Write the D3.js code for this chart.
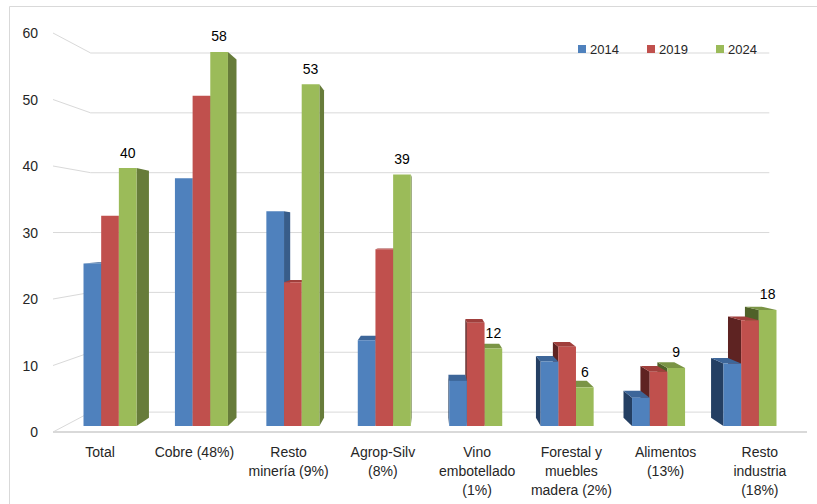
<!DOCTYPE html>
<html>
<head>
<meta charset="utf-8">
<script src="https://cdn.jsdelivr.net/npm/d3@7"></script>
<style>
  html, body { margin: 0; padding: 0; background: #fff; }
  svg { display: block; font-family: "Liberation Sans", Arial, sans-serif; }
</style>
</head>
<body>
<svg id="chart" width="817" height="504"></svg>
<script>
// ---- data ----
const categories = ["Total", "Cobre (48%)", "Resto minería (9%)", "Agrop-Silv (8%)",
  "Vino embotellado (1%)", "Forestal y muebles madera (2%)", "Alimentos (13%)", "Resto industria (18%)"];
const categoryLines = [
  ["Total"],
  ["Cobre (48%)"],
  ["Resto", "minería (9%)"],
  ["Agrop-Silv", "(8%)"],
  ["Vino", "embotellado", "(1%)"],
  ["Forestal y", "muebles", "madera (2%)"],
  ["Alimentos", "(13%)"],
  ["Resto", "industria", "(18%)"]
];
const series = ["2014", "2019", "2024"];
const values2014 = [25.2, 38.4, 33.3, 13.3, 7.0, 10.0, 4.4, 9.7];
const values2019 = [32.6, 51.2, 22.3, 27.4, 16.0, 12.3, 8.4, 16.4];
const values2024 = [40, 58, 53, 39, 12, 6, 9, 18];
const yTicks = [0, 10, 20, 30, 40, 50, 60];

const seriesValues = { "2014": values2014, "2019": values2019, "2024": values2024 };
const palette = {
  "2014": { front: "#4f81bd", sideR: "#385d8a", sideL: "#243f63", top: "#3d6699" },
  "2019": { front: "#c0504d", sideR: "#8c3a38", sideL: "#5e2322", top: "#a03f3c" },
  "2024": { front: "#9bbb59", sideR: "#677c3a", sideL: "#4f6128", top: "#7a9445" }
};

// ---- perspective set-up ----
const svg = d3.select("#chart");
const vanish = { x: 430, y: 233 };
const tWall = 0.1, tFront = 0.03, tBack = 0.071;

const y = d3.scaleLinear().domain([0, 60]).range([432, 33]);
const x = d3.scaleBand().domain(categories).range([53, 807]);
const clusterW = x.bandwidth() * 0.58;
const xs = d3.scaleBand().domain(series).range([0, clusterW]);

function proj(px, py, t) {
  return [px + (vanish.x - px) * t, py + (vanish.y - py) * t];
}
const poly = pts => "M" + pts.map(p => p[0].toFixed(2) + "," + p[1].toFixed(2)).join("L") + "Z";

// ---- frame ----
svg.append("path").attr("d", "M9.5,504V6.5H817")
  .attr("fill", "none").attr("stroke", "#d9d9d9").attr("stroke-width", 1);

// ---- walls & gridlines ----
const grid = svg.append("g").attr("stroke", "#d9d9d9").attr("stroke-width", 1).attr("fill", "none");
const xL = x.range()[0], xR = x.range()[1];
yTicks.forEach(v => {
  const a = [xL, y(v)];
  const b = proj(xL, y(v), tWall);
  const c = proj(xR, y(v), tWall);
  grid.append("path").attr("d", `M${a[0]},${a[1]}L${b[0]},${b[1]}L${c[0]},${c[1]}`);
});
// floor front edge
svg.append("line")
  .attr("x1", xL).attr("x2", xR).attr("y1", y(0)).attr("y2", y(0))
  .attr("stroke", "#d9d9d9").attr("stroke-width", 2);

// ---- value axis labels ----
svg.append("g").selectAll("text").data(yTicks).join("text")
  .attr("x", 38).attr("y", d => y(d) + 5)
  .attr("text-anchor", "end").attr("font-size", 14).attr("fill", "#262626")
  .text(d => d);

// ---- bars ----
const barsG = svg.append("g");
categories.forEach((cat, i) => {
  const bandStart = x(cat) + (x.bandwidth() - clusterW) / 2;
  const center = x(cat) + x.bandwidth() / 2;
  const order = center < vanish.x ? series.slice() : series.slice().reverse();
  order.forEach(s => {
    const v = seriesValues[s][i];
    const c = palette[s];
    const x0 = bandStart + xs(s), x1 = x0 + xs.bandwidth();
    const yt = y(v), yb = y(0);
    const g = barsG.append("g");
    // side face facing the viewer
    if (x1 < vanish.x) {
      g.append("path").attr("fill", c.sideR).attr("d", poly([
        proj(x1, yt, tFront), proj(x1, yt, tBack), proj(x1, yb, tBack), proj(x1, yb, tFront)]));
    } else if (x0 > vanish.x) {
      g.append("path").attr("fill", c.sideL).attr("d", poly([
        proj(x0, yt, tFront), proj(x0, yt, tBack), proj(x0, yb, tBack), proj(x0, yb, tFront)]));
    }
    // top face when below eye level
    if (yt > vanish.y) {
      g.append("path").attr("fill", c.top).attr("d", poly([
        proj(x0, yt, tFront), proj(x1, yt, tFront), proj(x1, yt, tBack), proj(x0, yt, tBack)]));
    }
    // front face
    g.append("path").attr("fill", c.front).attr("d", poly([
      proj(x0, yt, tFront), proj(x1, yt, tFront), proj(x1, yb, tFront), proj(x0, yb, tFront)]));
  });
});

// ---- value labels on the 2024 series ----
svg.append("g").selectAll("text").data(categories).join("text")
  .attr("x", (d, i) => {
    const x0 = x(d) + (x.bandwidth() - clusterW) / 2 + xs("2024");
    const a = proj(x0, 0, tFront), b = proj(x0 + xs.bandwidth(), 0, tFront);
    return (a[0] + b[0]) / 2;
  })
  .attr("y", (d, i) => proj(0, y(values2024[i]), tFront)[1] - 10.5)
  .attr("text-anchor", "middle").attr("font-size", 14).attr("fill", "#000")
  .text((d, i) => values2024[i]);

// ---- category labels ----
const catG = svg.append("g").attr("font-size", 14).attr("fill", "#262626").attr("text-anchor", "middle");
categories.forEach((cat, i) => {
  const t = catG.append("text").attr("x", x(cat) + x.bandwidth() / 2).attr("y", 457);
  categoryLines[i].forEach((line, k) => {
    t.append("tspan").attr("x", x(cat) + x.bandwidth() / 2).attr("dy", k === 0 ? 0 : 19).text(line);
  });
});

// ---- legend ----
const legendX = [578, 647, 716];
const leg = svg.append("g");
series.forEach((s, k) => {
  leg.append("rect").attr("x", legendX[k]).attr("y", 45).attr("width", 8).attr("height", 8)
    .attr("fill", palette[s].front);
  leg.append("text").attr("x", legendX[k] + 12).attr("y", 54)
    .attr("font-size", 13).attr("fill", "#262626").text(s);
});
</script>
</body>
</html>
